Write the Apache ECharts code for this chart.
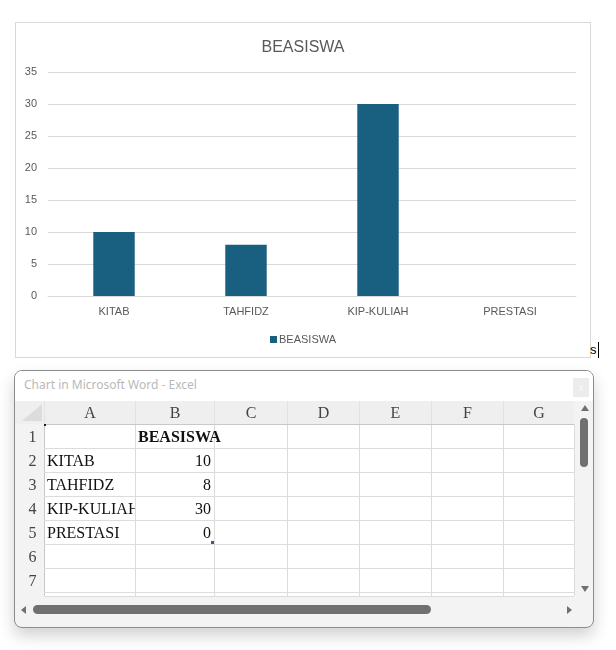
<!DOCTYPE html>
<html>
<head>
<meta charset="utf-8">
<script src="https://cdn.jsdelivr.net/npm/echarts@6/dist/echarts.min.js"></script>
<style>
  html, body { margin: 0; padding: 0; background: #ffffff; }
  body { width: 616px; height: 650px; position: relative; overflow: hidden; }
  #chartBox { position: absolute; left: 15px; top: 22px; width: 576px; height: 336px; border: 1px solid #d9d9d9; box-sizing: border-box; background: #fff; }
  #chart { width: 100%; height: 100%; }
  #cursor { position: absolute; left: 590px; top: 342px; font-family: "Liberation Sans", Arial, sans-serif; font-size: 13px; color: #000; line-height: 16px; }
  #cursor span { display: inline-block; width: 1px; height: 16px; background: #000; vertical-align: top; margin-left: 1px; }
  #win { position: absolute; left: 14px; top: 370px; width: 580px; height: 258px; box-sizing: border-box; border: 1px solid #8c8c8c; border-radius: 8px; background: #f3f3f3; box-shadow: 0 8px 16px rgba(0,0,0,0.18); overflow: hidden; }
  #titlebar { position: absolute; left: 0; top: 0; width: 100%; height: 30px; background: #fff; font-family: "Noto Sans", "Open Sans", sans-serif; font-size: 12px; color: #b9b9b9; line-height: 28px; padding-left: 9px; box-sizing: border-box; }
  #closeBtn { position: absolute; right: 4px; top: 7px; width: 16px; height: 19px; background: #ececec; color: #f8f8f8; font-size: 10px; text-align: center; line-height: 19px; }
  .cell { position: absolute; box-sizing: border-box; font-family: "Liberation Serif", "Times New Roman", serif; font-size: 16px; color: #111; line-height: 23px; white-space: nowrap; }
  .hdr { color: #444; text-align: center; }
  .grid { position: absolute; background: #fff; }
</style>
</head>
<body>
<div id="chartBox"><div id="chart"></div></div>
<div id="cursor">s<span></span></div>
<div id="win">
  <div id="titlebar">Chart in Microsoft Word - Excel<div id="closeBtn">x</div></div>
  <div id="sheet"></div>
</div>
<script>
// ---- data ----
var chartTitle = "BEASISWA";
var seriesName = "BEASISWA";
var categories = ["KITAB", "TAHFIDZ", "KIP-KULIAH", "PRESTASI"];
var values = [10, 8, 30, 0];
var columnLetters = ["A", "B", "C", "D", "E", "F", "G"];
var rowNumbers = [1, 2, 3, 4, 5, 6, 7];

// ---- chart ----
var chart = echarts.init(document.getElementById('chart'), null, { renderer: 'canvas' });
var font = '"Liberation Sans", Arial, sans-serif';
chart.setOption({
  animation: false,
  title: {
    text: chartTitle, left: 'center', top: 12,
    textStyle: { fontFamily: font, fontSize: 16, fontWeight: 'normal', color: '#595959' }
  },
  legend: {
    data: [seriesName], bottom: 7, left: 'center',
    icon: 'rect', itemWidth: 7, itemHeight: 7, itemGap: 4,
    textStyle: { fontFamily: font, fontSize: 11, color: '#595959', padding: [0, 0, 0, -3] }
  },
  grid: { left: 32, right: 14, top: 49, bottom: 61, containLabel: false },
  xAxis: {
    type: 'category', data: categories,
    axisLine: { lineStyle: { color: '#d9d9d9' } },
    axisTick: { show: false },
    axisLabel: { fontFamily: font, fontSize: 11, color: '#595959', margin: 10 }
  },
  yAxis: {
    type: 'value', min: 0, max: 35, interval: 5,
    axisLine: { show: false }, axisTick: { show: false },
    splitLine: { lineStyle: { color: '#d9d9d9' } },
    axisLabel: { fontFamily: font, fontSize: 11, color: '#595959', margin: 11 }
  },
  series: [{
    name: seriesName, type: 'bar', data: values,
    barCategoryGap: '68.6%',
    itemStyle: { color: '#185f80' }
  }]
});

// ---- spreadsheet (HTML) ----
var sheet = document.getElementById('sheet');
var winLeft = 14, winTop = 370;
var colX = [43, 134, 213, 286, 358, 430, 502, 573];
var headerTop = 400, headerH = 23, rowH = 24;
function el(style, html, cls) {
  var d = document.createElement('div');
  d.className = cls || '';
  d.style.cssText = style;
  if (html !== undefined) d.textContent = html;
  sheet.appendChild(d);
  return d;
}
function px(v) { return v + 'px'; }
var gridTop = headerTop + headerH;
var gridBottom = 595;
// header background
el('position:absolute;left:0;top:' + px(headerTop - winTop) + ';width:' + px(573 - winLeft) + ';height:' + px(headerH) + ';background:#efefef;');
// corner triangle
el('position:absolute;left:' + px(21 - winLeft) + ';top:' + px(403 - winTop) + ';width:0;height:0;border-left:20px solid transparent;border-bottom:17px solid #dcdcdc;');
// white grid area
el('left:' + px(colX[0] - winLeft) + ';top:' + px(gridTop - winTop) + ';width:' + px(colX[7] - colX[0]) + ';height:' + px(gridBottom - gridTop) + ';', undefined, 'grid');
// column header separators & letters
for (var c = 0; c < columnLetters.length; c++) {
  el('left:' + px(colX[c] - winLeft) + ';top:' + px(headerTop - winTop) + ';width:' + px(colX[c + 1] - colX[c]) + ';height:' + px(headerH) + ';border-left:1px solid #e2e2e2;', columnLetters[c], 'cell hdr');
}
// vertical gridlines
for (var c = 0; c < colX.length; c++) {
  el('position:absolute;left:' + px(colX[c] - winLeft) + ';top:' + px(gridTop - winTop) + ';width:1px;height:' + px(gridBottom - gridTop) + ';background:' + (c === 0 ? '#c8c8c8' : '#dcdcdc') + ';');
}
// horizontal gridlines and row numbers
for (var r = 0; r <= rowNumbers.length + 1; r++) {
  var gy = gridTop + r * rowH;
  if (gy > gridBottom) gy = gridBottom;
  el('position:absolute;left:' + px(colX[0] - winLeft) + ';top:' + px(gy - winTop) + ';width:' + px(colX[7] - colX[0]) + ';height:1px;background:' + (r === 0 ? '#c8c8c8' : '#dcdcdc') + ';');
}
for (var r = 0; r < rowNumbers.length; r++) {
  el('left:' + px(20 - winLeft) + ';top:' + px(gridTop + r * rowH - winTop + 1) + ';width:23px;height:' + px(rowH) + ';', String(rowNumbers[r]), 'cell hdr');
}
// header cell B1
el('left:' + px(colX[1] - winLeft + 3) + ';top:' + px(gridTop - winTop + 1) + ';height:' + px(rowH) + ';font-weight:bold;', seriesName, 'cell');
// data rows
for (var i = 0; i < categories.length; i++) {
  var rowTop = gridTop + (i + 1) * rowH - winTop + 1;
  el('left:' + px(colX[0] - winLeft + 3) + ';top:' + px(rowTop) + ';width:' + px(colX[1] - colX[0] - 3) + ';height:' + px(rowH) + ';overflow:hidden;', categories[i], 'cell');
  el('left:' + px(colX[1] - winLeft) + ';top:' + px(rowTop) + ';width:' + px(colX[2] - colX[1] - 3) + ';height:' + px(rowH) + ';text-align:right;', String(values[i]), 'cell');
}
// fill handle & selection dot
el('position:absolute;left:' + px(210 - winLeft) + ';top:' + px(540 - winTop) + ';width:3px;height:3px;background:#3a5a8c;');
el('position:absolute;left:' + px(43 - winLeft) + ';top:' + px(423 - winTop) + ';width:2px;height:2px;background:#222;');
// vertical scrollbar
el('position:absolute;left:' + px(580 - winLeft) + ';top:' + px(404 - winTop) + ';width:0;height:0;border-left:4px solid transparent;border-right:4px solid transparent;border-bottom:6px solid #707070;');
el('position:absolute;left:' + px(579 - winLeft) + ';top:' + px(417 - winTop) + ';width:8px;height:49px;border-radius:4px;background:#707070;');
el('position:absolute;left:' + px(580 - winLeft) + ';top:' + px(585 - winTop) + ';width:0;height:0;border-left:4px solid transparent;border-right:4px solid transparent;border-top:6px solid #707070;');
// horizontal scrollbar
el('position:absolute;left:' + px(20 - winLeft) + ';top:' + px(605 - winTop) + ';width:0;height:0;border-top:4px solid transparent;border-bottom:4px solid transparent;border-right:5px solid #707070;');
el('position:absolute;left:' + px(32 - winLeft) + ';top:' + px(604 - winTop) + ';width:398px;height:9px;border-radius:5px;background:#707070;');
el('position:absolute;left:' + px(566 - winLeft) + ';top:' + px(605 - winTop) + ';width:0;height:0;border-top:4px solid transparent;border-bottom:4px solid transparent;border-left:5px solid #707070;');
</script>
</body>
</html>
